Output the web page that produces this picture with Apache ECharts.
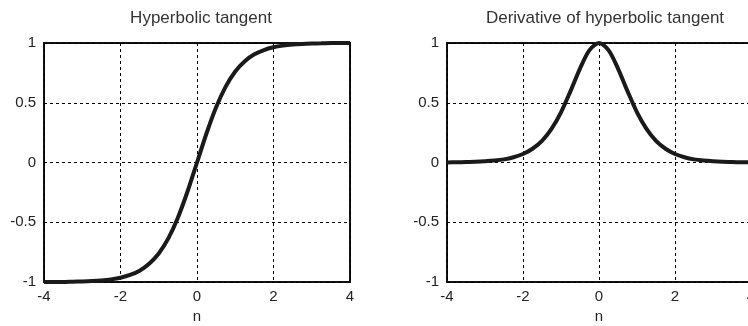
<!DOCTYPE html>
<html><head><meta charset="utf-8">
<script src="https://cdn.jsdelivr.net/npm/echarts@6/dist/echarts.min.js"></script>
<style>html,body{margin:0;padding:0;background:#fff}#c{width:748px;height:326px}</style>
</head><body><div id="c"></div>
<script>
var nValues = [-4,-3.75,-3.5,-3.25,-3,-2.75,-2.5,-2.25,-2,-1.75,-1.5,-1.25,-1,-0.75,-0.5,-0.25,0,0.25,0.5,0.75,1,1.25,1.5,1.75,2,2.25,2.5,2.75,3,3.25,3.5,3.75,4];
var tanhValues = [-1.00,-1.00,-1.00,-0.997,-0.995,-0.992,-0.987,-0.978,-0.964,-0.941,-0.905,-0.848,-0.762,-0.635,-0.462,-0.245,0,0.245,0.462,0.635,0.762,0.848,0.905,0.941,0.964,0.978,0.987,0.992,0.995,0.997,1.00,1.00,1.00];
var derivValues = [0.001,0.002,0.004,0.006,0.01,0.016,0.026,0.044,0.071,0.115,0.181,0.281,0.42,0.597,0.786,0.94,1.0,0.94,0.786,0.597,0.42,0.281,0.181,0.115,0.071,0.044,0.026,0.016,0.01,0.006,0.004,0.002,0.001];
var xTicks = {min:-4, max:4, interval:2};
var yTicks = {min:-1, max:1, interval:0.5};
var titles = ['Hyperbolic tangent','Derivative of hyperbolic tangent'];
var xName = 'n';

function pairs(xs, ys){ return xs.map(function(x,i){return [x, ys[i]];}); }

var font = 'Liberation Sans, Arial, sans-serif';
function xAxis(idx){
  return {type:'value', gridIndex:idx, min:xTicks.min, max:xTicks.max, interval:xTicks.interval,
    name:xName, nameLocation:'middle', nameGap:27,
    nameTextStyle:{color:'#222', fontSize:15, fontFamily:font},
    axisLine:{show:false}, axisTick:{show:false},
    axisLabel:{color:'#222', fontSize:15, fontFamily:font, margin:7, hideOverlap:false, showMinLabel:true, showMaxLabel:true},
    splitLine:{show:true, lineStyle:{color:'#000', type:[3,3], width:1}}};
}
function yAxis(idx){
  return {type:'value', gridIndex:idx, min:yTicks.min, max:yTicks.max, interval:yTicks.interval,
    axisLine:{show:false}, axisTick:{show:false},
    axisLabel:{color:'#222', fontSize:15, fontFamily:font, margin:8},
    splitLine:{show:true, lineStyle:{color:'#000', type:[3,3], width:1}}};
}
var chart = echarts.init(document.getElementById('c'), null, {renderer:'canvas'});
chart.setOption({
  animation:false,
  backgroundColor:'#fff',
  title:[
    {text:titles[0], left:196, top:5, textAlign:'center', textStyle:{fontSize:17, fontWeight:'normal', color:'#333', fontFamily:font}},
    {text:titles[1], left:600, top:5, textAlign:'center', textStyle:{fontSize:17, fontWeight:'normal', color:'#333', fontFamily:font}}
  ],
  grid:[
    {left:44, top:43, width:306, height:239, show:true, borderColor:'#111', borderWidth:2, backgroundColor:'transparent', outerBoundsMode:'none', containLabel:false},
    {left:447, top:43, width:304, height:239, show:true, borderColor:'#111', borderWidth:2, backgroundColor:'transparent', outerBoundsMode:'none', containLabel:false}
  ],
  xAxis:[xAxis(0), xAxis(1)],
  yAxis:[yAxis(0), yAxis(1)],
  series:[
    {type:'line', xAxisIndex:0, yAxisIndex:0, data:pairs(nValues, tanhValues), showSymbol:false, smooth:0.3,
     lineStyle:{color:'#1a1a1a', width:4}},
    {type:'line', xAxisIndex:1, yAxisIndex:1, data:pairs(nValues, derivValues), showSymbol:false, smooth:0.3,
     lineStyle:{color:'#1a1a1a', width:4}}
  ]
});
</script></body></html>
